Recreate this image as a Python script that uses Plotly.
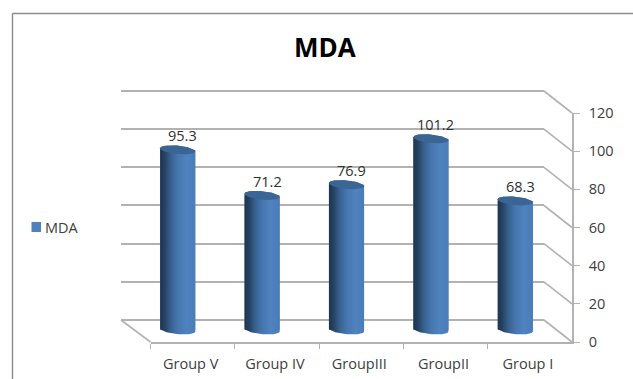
import numpy as np
import plotly.graph_objects as go

# Chart data
groups = ["Group V", "Group IV", "GroupIII", "GroupII", "Group I"]
mda = [95.3, 71.2, 76.9, 101.2, 68.3]
value_ticks = [0, 20, 40, 60, 80, 100, 120]

W, H = 633, 379
FONT = "Open Sans"
GRID = "#b2b2b2"
TEXT = "#404040"


def px(x):
    return x / W


def py(y):
    return 1 - y / H


# Pixel geometry of the pseudo-3D box: back wall, front edge, and the bar plane between them
BACK_X = (121, 544)
FRONT_X = (150.5, 572)
BAR_X = (135.5, 557.5)
BACK_Y = (320, 91)
FRONT_Y = (342, 113)
BAR_UNIT = 1.89      # pixels per value unit in the bar plane
BAR_ZERO = 330
BAR_FLOOR = -10      # room under zero for the rounded cylinder base
BACK_PAD = 5         # spare value range so the outer gridlines are not clipped

half_w = 0.208       # cylinder half width, in category units
cat_px = (BAR_X[1] - BAR_X[0]) / len(groups)
ry = 4.2 / BAR_UNIT  # ellipse half height, in value units
tilt = 0.09 * cat_px / BAR_UNIT  # slight perspective slant of the ellipses

t = np.linspace(0, np.pi, 40)


def arc(center, level, sign):
    """Half ellipse from the left side to the right side, above (+1) or below (-1)."""
    dx = -np.cos(t)
    xs = center + half_w * dx
    ys = level + sign * ry * np.sin(t) - tilt * half_w * dx
    return xs, ys


fig = go.Figure()

# Back wall: its gridlines come from the first y axis
fig.add_trace(go.Scatter(x=[0, 1], y=[0, 120], mode="markers", marker_opacity=0,
                         hoverinfo="skip", showlegend=False, xaxis="x", yaxis="y"))

# Front edge: category labels and value labels
fig.add_trace(go.Scatter(x=groups, y=mda, mode="markers", marker_opacity=0,
                         hoverinfo="skip", showlegend=False, xaxis="x2", yaxis="y2"))

# Plain bars give the body, the gradient cylinders go on top of them
positions = list(range(len(groups)))
fig.add_trace(go.Bar(x=positions, y=mda, width=2 * half_w, name="MDA",
                     marker=dict(color="#4f81bd", line_width=0),
                     showlegend=False, xaxis="x3", yaxis="y3"))

shade = [
    [0.0, "#1f3550"], [0.12, "#25405f"], [0.3, "#37608f"],
    [0.5, "#4676ae"], [0.75, "#4f82bf"], [1.0, "#4a7cb8"],
]
for pos, val in zip(positions, mda):
    tx, ty = arc(pos, val, 1)
    bx, by = arc(pos, 0, -1)
    fig.add_trace(go.Scatter(
        x=np.r_[tx, bx[::-1], tx[0]], y=np.r_[ty, by[::-1], ty[0]],
        mode="lines", line_width=0, fill="toself",
        fillgradient=dict(type="horizontal", colorscale=shade),
        hoverinfo="skip", showlegend=False, xaxis="x3", yaxis="y3"))
    ux, uy = arc(pos, val, -1)
    fig.add_trace(go.Scatter(
        x=np.r_[tx, ux[::-1]], y=np.r_[ty, uy[::-1]],
        mode="lines", line_width=0, fill="toself", fillcolor="#3a6595",
        hoverinfo="skip", showlegend=False, xaxis="x3", yaxis="y3"))

annotations = [
    dict(x=pos, y=val, xref="x3", yref="y3", text=str(val), showarrow=False,
         xshift=5, yshift=14, font=dict(family=FONT, size=14.5, color="#303030"))
    for pos, val in zip(positions, mda)
]
annotations += [
    dict(x=px(324.5), y=py(46.5), xref="paper", yref="paper", text="<b>MDA</b>",
         yanchor="middle", showarrow=False, font=dict(family=FONT, size=26, color="#000000")),
    dict(x=px(45), y=py(227.5), xref="paper", yref="paper", text="MDA", xanchor="left",
         yanchor="middle", showarrow=False, xshift=-2,
         font=dict(family=FONT, size=14.5, color=TEXT)),
]

# Chart frame, legend swatch, floor edge and the wall-to-axis connectors
line = dict(color=GRID, width=1.6)
shapes = [
    dict(type="line", xref="paper", yref="paper", x0=px(12.5), y0=py(13.5), x1=px(W), y1=py(13.5),
         line=dict(color="#8c8c8c", width=1.4)),
    dict(type="line", xref="paper", yref="paper", x0=px(12.5), y0=py(13.5), x1=px(12.5), y1=py(H),
         line=dict(color="#8c8c8c", width=1.4)),
    dict(type="rect", xref="paper", yref="paper", x0=px(31.5), y0=py(222), x1=px(41), y1=py(232),
         fillcolor="#4f81bd", line_width=0),
]
back_step = (BACK_Y[0] - BACK_Y[1]) / 120
front_step = (FRONT_Y[0] - FRONT_Y[1]) / 120
for v in value_ticks:
    shapes.append(dict(type="line", xref="paper", yref="paper", layer="below",
                       x0=px(BACK_X[1]), y0=py(BACK_Y[0] - v * back_step),
                       x1=px(FRONT_X[1]), y1=py(FRONT_Y[0] - v * front_step), line=line))
shapes.append(dict(type="line", xref="paper", yref="paper", layer="below",
                   x0=px(BACK_X[0]), y0=py(BACK_Y[0]),
                   x1=px(FRONT_X[0]), y1=py(FRONT_Y[0]), line=line))

fig.update_layout(
    width=W, height=H, margin=dict(l=0, r=0, t=0, b=0, autoexpand=False),
    paper_bgcolor="white", plot_bgcolor="rgba(0,0,0,0)",
    showlegend=False, barmode="overlay", font=dict(family=FONT),
    annotations=annotations, shapes=shapes,
    xaxis=dict(domain=[px(BACK_X[0]), px(BACK_X[1])], range=[0, 1], visible=False, anchor="y",
               automargin=False),
    yaxis=dict(domain=[py(BACK_Y[0] + BACK_PAD * back_step), py(BACK_Y[1] - BACK_PAD * back_step)],
               range=[-BACK_PAD, 120 + BACK_PAD], tickvals=value_ticks,
               showgrid=True, gridcolor=GRID, gridwidth=1.6, showticklabels=False, ticks="",
               zeroline=True, zerolinecolor=GRID, zerolinewidth=1.6, showline=False, anchor="x",
               automargin=False),
    xaxis2=dict(domain=[px(FRONT_X[0]), px(FRONT_X[1])], type="category", categoryorder="array",
                categoryarray=groups, range=[-0.5, 4.5], tickson="boundaries", ticks="outside",
                ticklen=5, tickcolor=GRID, tickwidth=1.4, showline=True, linecolor=GRID,
                linewidth=1.6, showgrid=False, ticklabelstandoff=8, ticklabelshift=-2,
                tickfont=dict(family=FONT, size=14.5, color=TEXT), anchor="y2", automargin=False),
    yaxis2=dict(domain=[py(FRONT_Y[0]), py(FRONT_Y[1])], range=[0, 120], tickvals=value_ticks,
                side="right", ticks="outside", ticklen=6, tickcolor=GRID, tickwidth=1.4,
                showline=True, linecolor=GRID, linewidth=1.6, showgrid=False, zeroline=False,
                ticklabelstandoff=6, tickfont=dict(family=FONT, size=14.5, color=TEXT),
                anchor="x2", automargin=False),
    xaxis3=dict(domain=[px(BAR_X[0]), px(BAR_X[1])], range=[-0.5, 4.5], visible=False, anchor="y3",
                automargin=False),
    yaxis3=dict(domain=[py(BAR_ZERO - BAR_FLOOR * BAR_UNIT), py(BAR_ZERO - 120 * BAR_UNIT)],
                range=[BAR_FLOOR, 120], visible=False, anchor="x3", automargin=False),
)

fig.write_html("out.html", config={"displayModeBar": False})
